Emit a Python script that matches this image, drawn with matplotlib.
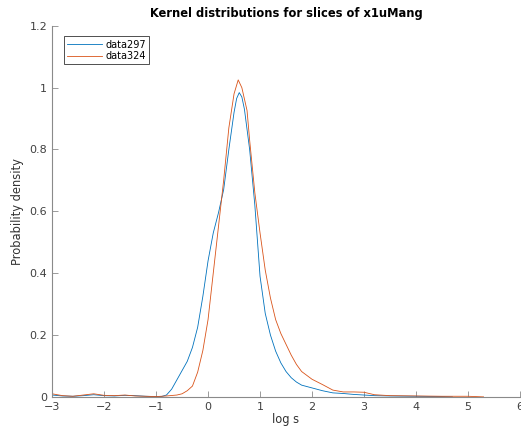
import matplotlib
matplotlib.use("Agg")
import matplotlib.pyplot as plt

# data297 (blue)
x297 = [-3.0, -2.8, -2.6, -2.4, -2.2, -2.0, -1.8, -1.6, -1.4, -1.2, -1.0, -0.9,
        -0.8, -0.7, -0.6, -0.5, -0.4, -0.3, -0.2, -0.1, 0.0, 0.1, 0.2, 0.3, 0.4,
        0.5, 0.55, 0.6, 0.65, 0.7, 0.8, 0.9, 1.0, 1.1, 1.2, 1.3, 1.4, 1.5, 1.6,
        1.7, 1.8, 2.0, 2.2, 2.4, 2.6, 2.8, 3.0, 3.2, 3.5, 4.0, 4.5, 4.7]
y297 = [0.006, 0.003, 0.002, 0.004, 0.007, 0.004, 0.003, 0.005, 0.004, 0.002, 0.001, 0.001,
        0.006, 0.025, 0.055, 0.085, 0.115, 0.16, 0.225, 0.325, 0.44, 0.53, 0.595, 0.67, 0.8,
        0.92, 0.965, 0.984, 0.97, 0.93, 0.8, 0.62, 0.39, 0.27, 0.2, 0.148, 0.11, 0.082, 0.062,
        0.048, 0.038, 0.029, 0.02, 0.013, 0.011, 0.008, 0.006, 0.004, 0.003, 0.002, 0.001, 0.0]

# data324 (orange)
x324 = [-3.0, -2.8, -2.6, -2.4, -2.2, -2.0, -1.8, -1.6, -1.4, -1.2, -1.0, -0.8,
        -0.6, -0.5, -0.4, -0.3, -0.2, -0.1, 0.0, 0.1, 0.2, 0.3, 0.4, 0.5, 0.58,
        0.65, 0.75, 0.8, 0.9, 1.0, 1.1, 1.2, 1.3, 1.4, 1.5, 1.6, 1.7, 1.8, 2.0,
        2.2, 2.4, 2.6, 2.8, 3.0, 3.2, 3.5, 4.0, 4.5, 5.0, 5.3]
y324 = [0.01, 0.004, 0.002, 0.006, 0.01, 0.005, 0.004, 0.006, 0.003, 0.002, 0.001, 0.003,
        0.006, 0.01, 0.02, 0.035, 0.08, 0.15, 0.25, 0.4, 0.55, 0.7, 0.87, 0.98, 1.025,
        1.0, 0.926, 0.83, 0.66, 0.53, 0.41, 0.32, 0.25, 0.205, 0.17, 0.135, 0.105, 0.082, 0.057,
        0.04, 0.022, 0.016, 0.016, 0.015, 0.007, 0.004, 0.003, 0.002, 0.002, 0.0]

fig = plt.figure(figsize=(5.21, 4.30), dpi=100)
ax = fig.add_axes([0.1, 0.077, 0.898, 0.863])

ax.plot(x297, y297, color=(0.0, 0.447, 0.741), linewidth=0.6, label='data297')
ax.plot(x324, y324, color=(0.85, 0.325, 0.098), linewidth=0.6, label='data324')

ax.set_xlim(-3, 6)
ax.set_ylim(0, 1.2)
ax.set_xticks(range(-3, 7))
ax.set_yticks([0, 0.2, 0.4, 0.6, 0.8, 1, 1.2])
ax.set_yticklabels(['0', '0.2', '0.4', '0.6', '0.8', '1', '1.2'])

for s in ['top', 'right']:
    ax.spines[s].set_visible(False)
for s in ['left', 'bottom']:
    ax.spines[s].set_color('#8a8a8a')
    ax.spines[s].set_linewidth(0.8)
ax.tick_params(direction='in', length=4, width=0.6, color='#8a8a8a',
               labelsize=8, labelcolor='#404040')

ax.set_title('Kernel distributions for slices of x1uMang', fontsize=8.3,
             fontweight='bold', pad=6)
ax.set_xlabel('log s', fontsize=8.3, color='#333333', labelpad=1)
ax.set_ylabel('Probability density', fontsize=8.3, color='#333333', labelpad=4)

leg = ax.legend(loc='upper left', fontsize=7, fancybox=False, framealpha=1,
                edgecolor='#333333', borderpad=0.35, handlelength=3.6,
                handletextpad=0.3, labelspacing=0.15, bbox_to_anchor=(0.015, 0.985))
leg.get_frame().set_linewidth(0.6)

fig.savefig('out.png', dpi=100)
